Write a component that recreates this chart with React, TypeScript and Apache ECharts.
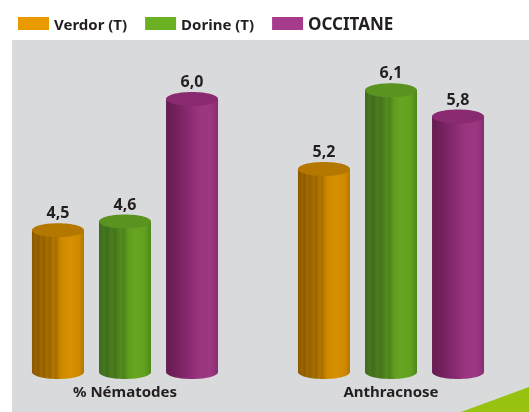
import React, { useEffect, useRef } from "react";
import * as echarts from "echarts";

const categories = ["% Nématodes", "Anthracnose"];
const seriesNames = ["Verdor (T)", "Dorine (T)", "OCCITANE"];
const verdor = [4.5, 5.2];
const dorine = [4.6, 6.1];
const occitane = [6.0, 5.8];
const seriesValues = [verdor, dorine, occitane];

const Y_MIN = 2.88;
const Y_MAX = 6.56;

const legendColors = ["#e89a00", "#6ab023", "#a63b8c"];
const topColors = ["#b47700", "#5a9320", "#8a2a71"];
const bodyStops = [
  [
    [0, "#8a5700"], [0.08, "#9a6400"], [0.12, "#8c5a00"], [0.18, "#a36c00"], [0.22, "#946000"],
    [0.3, "#a87000"], [0.34, "#9a6500"], [0.42, "#b47800"], [0.46, "#a46c00"], [0.52, "#c28100"],
    [0.58, "#d08a00"], [0.75, "#d69000"], [0.92, "#cc8800"], [1, "#b07400"],
  ],
  [
    [0, "#3f6d1b"], [0.1, "#457620"], [0.15, "#3f6d1b"], [0.25, "#4b7e1e"], [0.3, "#44731c"],
    [0.42, "#558c1f"], [0.47, "#4d821d"], [0.56, "#609c1f"], [0.7, "#66a520"], [0.88, "#62a01f"],
    [1, "#4e861c"],
  ],
  [
    [0, "#661c52"], [0.2, "#74215d"], [0.45, "#8a2b71"], [0.65, "#9a357f"], [0.85, "#9c3781"],
    [1, "#8a2d73"],
  ],
];

function grad(stops: any[]) {
  return new echarts.graphic.LinearGradient(
    0, 0, 1, 0,
    stops.map(([offset, color]) => ({ offset, color }))
  );
}

export default function App() {
  const ref = useRef<HTMLDivElement>(null);
  useEffect(() => {
    document.body.style.margin = "0";
    const chart = echarts.init(ref.current!, null, { renderer: "svg" });
    const series = seriesNames.map((name, s) => ({
      name,
      type: "custom",
      itemStyle: { color: legendColors[s] },
      encode: { x: 0, y: 1 },
      data: seriesValues[s].map((v, i) => [i, v]),
      renderItem: (params: any, api: any) => {
        const ci = api.value(0);
        const v = api.value(1);
        const top = api.coord([ci, v]);
        const base = api.coord([ci, Y_MIN]);
        const bw = api.size([1, 0])[0];
        const cx = top[0] + (s - 1) * bw * 0.252;
        const w = 52;
        const ry = 7;
        return {
          type: "group",
          children: [
            {
              type: "ellipse",
              shape: { cx, cy: base[1], rx: w / 2, ry },
              style: { fill: grad(bodyStops[s]) },
            },
            {
              type: "rect",
              shape: { x: cx - w / 2, y: top[1], width: w, height: base[1] - top[1] },
              style: { fill: grad(bodyStops[s]) },
            },
            {
              type: "ellipse",
              shape: { cx, cy: top[1], rx: w / 2, ry },
              style: { fill: topColors[s] },
            },
            {
              type: "text",
              style: {
                text: String(v.toFixed(1)).replace(".", ","),
                x: cx,
                y: top[1] - ry - 3,
                align: "center",
                verticalAlign: "bottom",
                fill: "#231f20",
                font: "bold 16px 'Noto Sans'",
              },
            },
          ],
        };
      },
    }));
    chart.setOption({
      animation: false,
      graphic: [
        {
          type: "rect",
          shape: { x: 12, y: 40, width: 517, height: 372 },
          style: { fill: "#d9dadc" },
          z: -10,
        },
        {
          type: "polygon",
          shape: { points: [[461, 412], [529, 387], [529, 412]] },
          style: { fill: "#97c20f" },
          z: -5,
        },
      ],
      legend: {
        left: 13,
        top: 10,
        itemWidth: 31,
        itemHeight: 13,
        itemGap: 18,
        icon: "rect",
        textStyle: { fontFamily: "Noto Sans", fontWeight: "bold", fontSize: 15, color: "#231f20" },
        data: [
          { name: "Verdor (T)" },
          { name: "Dorine (T)" },
          { name: "OCCITANE", textStyle: { fontSize: 17 } },
        ],
      },
      grid: { left: 125, right: 138, top: 50, bottom: 40 },
      xAxis: {
        type: "category",
        data: categories,
        boundaryGap: false,
        axisLine: { show: false },
        axisTick: { show: false },
        axisLabel: {
          margin: 11,
          fontFamily: "Noto Sans",
          fontWeight: "bold",
          fontSize: 15,
          color: "#231f20",
        },
      },
      yAxis: {
        type: "value",
        min: Y_MIN,
        max: Y_MAX,
        show: false,
        splitLine: { show: false },
      },
      series,
    });
    return () => chart.dispose();
  }, []);
  return <div ref={ref} style={{ position: "fixed", left: 0, top: 0, width: 529, height: 412 }} />;
}
